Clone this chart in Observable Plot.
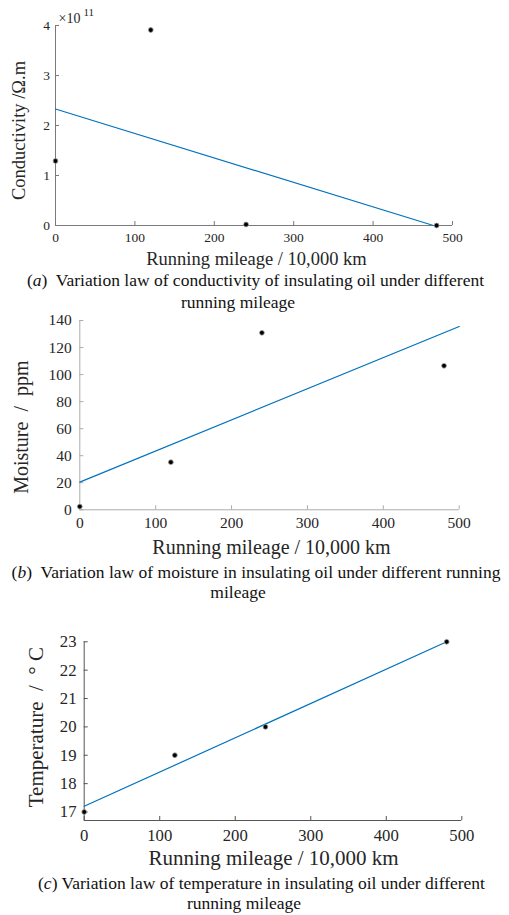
<!DOCTYPE html>
<html>
<head>
<meta charset="utf-8">
<script src="https://cdn.jsdelivr.net/npm/d3@7"></script>
<script src="https://cdn.jsdelivr.net/npm/@observablehq/plot@0.6"></script>
<style>
  html, body { margin: 0; padding: 0; background: #fff; }
  #root { position: relative; width: 509px; height: 915px; overflow: hidden; font-family: "Liberation Serif", "Times New Roman", serif; }
  .panel { position: absolute; left: 0; }
  .cap { position: absolute; white-space: nowrap; transform: translateX(-50%); font-size: 17.5px; line-height: 20px; color: #111; font-family: "Liberation Serif", "Times New Roman", serif; }
</style>
</head>
<body>
<div id="root"></div>
<script>
// ---- data ----
const mileage = [0, 120, 240, 480];
const conductivity = [1.29, 3.91, 0.02, 0.0];      // ×10^11 Ω·m
const moisture = [2.4, 35.2, 130.9, 106.5];        // ppm
const temperature = [17, 19, 20, 23];              // °C

const condFitX = [0, 476];
const condFitY = [2.33, 0.0];
const moistFitX = [0, 500];
const moistFitY = [20.5, 135.6];
const tempFitX = [0, 480];
const tempFitY = [17.2, 23.0];

const xTicks = [0, 100, 200, 300, 400, 500];
const condTicks = [0, 1, 2, 3, 4];
const moistTicks = [0, 20, 40, 60, 80, 100, 120, 140];
const tempTicks = [17, 18, 19, 20, 21, 22, 23];

const xLabel = "Running mileage / 10,000 km";
const condLabel = "Conductivity /Ω.m";
const moistLabel = "Moisture\u00a0\u00a0/\u00a0\u00a0ppm";
const tempLabel = "Temperature\u00a0\u00a0/\u00a0\u00a0°\u00a0C";

const BLUE = "#0072BD";
const SERIF = "'Liberation Serif', 'Times New Roman', serif";
const pts = (ys) => mileage.map((x, i) => ({x, y: ys[i]}));
const fit = (xs, ys) => xs.map((x, i) => ({x, y: ys[i]}));

function panel(cfg) {
  const marks = [
    Plot.ruleX([0], {stroke: cfg.axisColor, strokeWidth: 1}),
    Plot.ruleY([cfg.yDomain[0]], {stroke: cfg.axisColor, strokeWidth: 1}),
    Plot.axisX({ticks: xTicks, label: null, tickSize: -4, stroke: cfg.axisColor, tickFormat: () => ""}),
    Plot.axisY({ticks: cfg.yTicks, label: null, tickSize: -4, stroke: cfg.axisColor, tickFormat: () => ""}),
    Plot.axisX({ticks: xTicks, label: null, tickSize: 0, tickPadding: cfg.xPad, fill: "#262626", fontFamily: SERIF, fontSize: cfg.tickFont, tickFormat: d => String(d)}),
    Plot.axisY({ticks: cfg.yTicks, label: null, tickSize: 0, tickPadding: cfg.yPad, fill: "#262626", fontFamily: SERIF, fontSize: cfg.tickFont, tickFormat: d => String(d)}),
    Plot.line(cfg.fit, {x: "x", y: "y", stroke: BLUE, strokeWidth: 1.2}),
    Plot.dot(cfg.points, {x: "x", y: "y", r: 2.4, fill: "#000", stroke: "#999", strokeWidth: 0.8}),
    Plot.text([xLabel], {frameAnchor: "bottom", text: d => d, textAnchor: "middle", lineAnchor: "middle", dx: cfg.xlDx, dy: cfg.xlDy, fontFamily: SERIF, fontSize: cfg.labelFont, fill: "#262626"}),
    Plot.text([cfg.yLabel], {frameAnchor: "left", text: d => d, textAnchor: "middle", lineAnchor: "middle", rotate: -90, dx: cfg.ylDx, dy: cfg.ylDy, fontFamily: SERIF, fontSize: cfg.labelFont, fill: "#262626"})
  ];
  if (cfg.extra) marks.push(...cfg.extra);
  const svg = Plot.plot({
    width: 509,
    height: cfg.height,
    marginLeft: cfg.ml, marginRight: cfg.mr, marginTop: cfg.mt, marginBottom: cfg.mb,
    style: {fontFamily: SERIF, background: "transparent", overflow: "visible"},
    x: {domain: [0, 500], axis: null},
    y: {domain: cfg.yDomain, axis: null},
    marks
  });
  svg.classList.add("panel");
  svg.style.top = cfg.top + "px";
  return svg;
}

const root = document.getElementById("root");

root.appendChild(panel({
  top: 0, height: 275, ml: 55, mr: 57, mt: 25, mb: 50,
  yDomain: [0, 4], yTicks: condTicks, axisColor: "#7a7a7a",
  tickFont: 13.5, labelFont: 18.5, xPad: 6.5, yPad: 5.5,
  points: pts(conductivity), fit: fit(condFitX, condFitY),
  yLabel: condLabel, xlDx: 2.5, xlDy: 34, ylDx: -36, ylDy: 5,
  extra: [
    Plot.text(["×10"], {frameAnchor: "top-left", text: d => d, dx: 3, dy: -7, fontFamily: SERIF, fontSize: 14, textAnchor: "start", lineAnchor: "middle", fill: "#262626"}),
    Plot.text(["11"], {frameAnchor: "top-left", text: d => d, dx: 28, dy: -13, fontFamily: SERIF, fontSize: 11, textAnchor: "start", lineAnchor: "middle", fill: "#262626"})
  ]
}));

root.appendChild(panel({
  top: 300, height: 250, ml: 79.3, mr: 50.3, mt: 20, mb: 40.7,
  yDomain: [0, 140], yTicks: moistTicks, axisColor: "#ababab",
  tickFont: 15.5, labelFont: 20, xPad: 7.5, yPad: 8,
  points: pts(moisture), fit: fit(moistFitX, moistFitY),
  yLabel: moistLabel, xlDx: 2, xlDy: 37.7, ylDx: -58.5, ylDy: 12
}));

root.appendChild(panel({
  top: 620, height: 250, ml: 83.7, mr: 47.7, mt: 21.3, mb: 50,
  yDomain: [16.7, 23], yTicks: tempTicks, axisColor: "#555555",
  tickFont: 16.7, labelFont: 21, xPad: 8.7, yPad: 7.7,
  points: pts(temperature), fit: fit(tempFitX, tempFitY),
  yLabel: tempLabel, xlDx: 0.5, xlDy: 38, ylDx: -48, ylDy: -4
}));

// captions
const caps = [
  {html: "(<i>a</i>)&nbsp; Variation law of conductivity of insulating oil under different", cx: 255.5, cy: 280},
  {html: "running mileage", cx: 238, cy: 302},
  {html: "(<i>b</i>)&nbsp; Variation law of moisture in insulating oil under different running", cx: 256, cy: 571.7},
  {html: "mileage", cx: 238, cy: 592},
  {html: "(<i>c</i>) Variation law of temperature in insulating oil under different", cx: 261.5, cy: 883},
  {html: "running mileage", cx: 244, cy: 903}
];
for (const c of caps) {
  const d = document.createElement("div");
  d.className = "cap";
  d.innerHTML = c.html;
  d.style.left = c.cx + "px";
  d.style.top = (c.cy - 10) + "px";
  root.appendChild(d);
}
</script>
</body>
</html>
